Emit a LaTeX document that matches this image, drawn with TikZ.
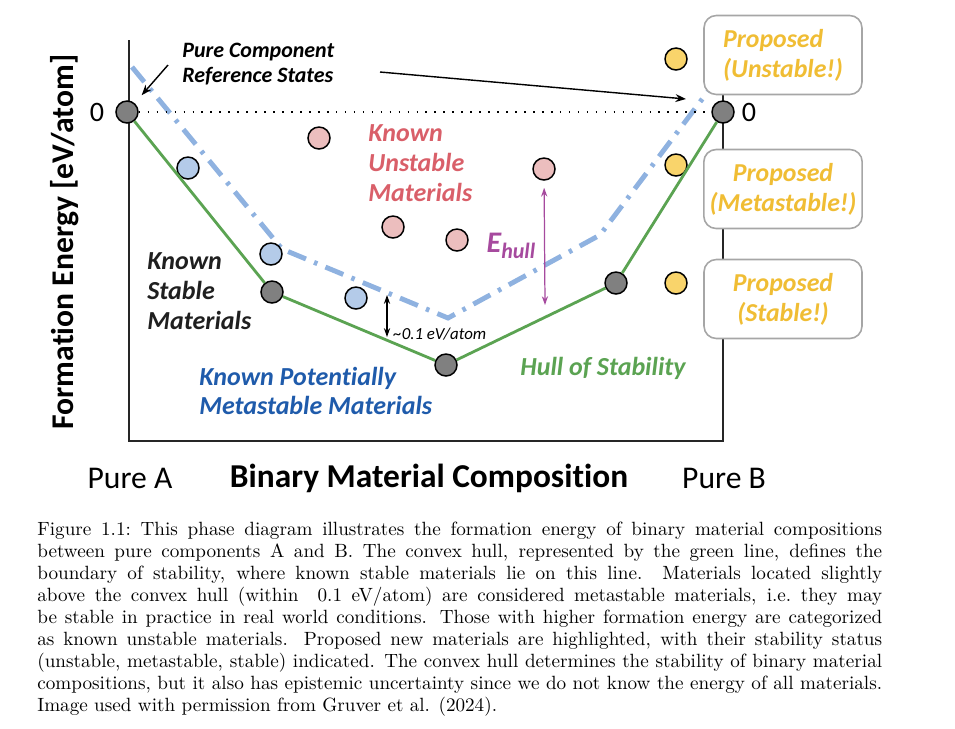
\documentclass[tikz,border=0pt]{standalone}
\usepackage{fontspec}
\newfontfamily\labelfont[Ligatures=NoCommon]{Carlito}
\usetikzlibrary{arrows.meta}
\definecolor{hullgreen}{RGB}{91,163,82}
\definecolor{metablue}{RGB}{143,178,224}
\definecolor{knownblue}{RGB}{31,91,171}
\definecolor{unred}{RGB}{217,95,105}
\definecolor{ehullpurple}{RGB}{166,74,158}
\definecolor{propyellow}{RGB}{240,189,52}
\definecolor{dotgray}{RGB}{128,128,128}
\definecolor{dotblue}{RGB}{180,203,233}
\definecolor{dotpink}{RGB}{236,190,190}
\definecolor{dotyellow}{RGB}{249,212,107}
\begin{document}
\begin{tikzpicture}[x=0.02cm,y=-0.02cm,
	dot/.style={circle,draw=black,line width=0.85pt,inner sep=0pt,minimum size=0.44cm},
	stable/.style={dot,fill=dotgray},
	meta/.style={dot,fill=dotblue},
	unstable/.style={dot,fill=dotpink},
	proposed/.style={dot,fill=dotyellow},
	hull/.style={hullgreen,line width=1.6pt},
	ptr/.style={-{Stealth[length=6pt,width=4.5pt]},line width=0.8pt},
	bigtxt/.style={font=\labelfont\fontsize{14.8}{17}\selectfont\bfseries\itshape,align=left,inner sep=0pt},
	propbox/.style={draw=black!35,line width=0.9pt,fill=white,rounded corners=7pt,minimum width=3.16cm,minimum height=1.58cm,font=\labelfont\fontsize{14.7}{17}\selectfont\bfseries\itshape,text=propyellow}]
	\useasboundingbox (0,0) rectangle (955,728);
	\draw[line width=1.1pt,black!85] (129,40) -- (129,441) -- (723,441) -- (723,40);
	\draw[metablue,line width=2.8pt,dash pattern=on 11pt off 5pt on 2pt off 5pt] (132,67) -- (282,249) -- (448,318) -- (600,235) -- (712,86);
	\node[stable] (ptA) at (127,112) {};
	\node[stable] (ptB) at (723,112) {};
	\node[stable] (st1) at (272,292) {};
	\node[stable] (st2) at (446,365) {};
	\node[stable] (st3) at (616,283) {};
	\node[meta] (mb1) at (188,168) {};
	\node[meta] (mb2) at (271,254) {};
	\node[meta] (mb3) at (356,298) {};
	\node[unstable] (un1) at (319,138) {};
	\node[unstable] (un2) at (393,227) {};
	\node[unstable] (un3) at (457,240) {};
	\node[unstable] (un4) at (544,169) {};
	\node[proposed] (pr1) at (676,59) {};
	\node[proposed] (pr2) at (676,165) {};
	\node[proposed] (pr3) at (676,283) {};
	\draw[line width=0.9pt,dash pattern=on 0.9pt off 4.2pt] (ptA) -- (ptB);
	\draw[hull] (ptA) -- (st1) -- (st2) -- (st3) -- (ptB);
	\node[propbox,align=left] (boxU) at (783,55) {Proposed\\(Unstable!)};
	\node[propbox,align=center] (boxM) at (783,189) {Proposed\\(Metastable!)};
	\node[propbox,align=center] (boxS) at (783,299) {Proposed\\(Stable!)};
	\node[bigtxt,font=\labelfont\fontsize{12.5}{14.2}\selectfont\bfseries\itshape,anchor=west] (pure) at (182,64) {Pure Component\\Reference States};
	\coordinate (refA) at (168,65);
	\coordinate (refB0) at (380,72);
	\coordinate (refB) at (686,99);
	\draw[ptr,shorten >=6pt] (refA) -- (ptA);
	\draw[ptr] (refB0) -- (refB);
	\node[bigtxt,text=unred,anchor=west] (unlab) at (368,163) {Known\\Unstable\\Materials};
	\node[bigtxt,text=black!88,anchor=west] (stlab) at (147,291) {Known\\Stable\\Materials};
	\node[bigtxt,text=knownblue,anchor=west] (mblab) at (199,391) {Known Potentially\\Metastable Materials};
	\node[bigtxt,text=hullgreen] (hulllab) at (603,368) {Hull of Stability};
	\node[bigtxt,text=ehullpurple] (ehull) at (511,246) {\fontsize{17}{17}\selectfont E\raisebox{-0.45ex}{\fontsize{12.5}{12.5}\selectfont hull}};
	\coordinate (ehullbot) at (545,305);
	\draw[ehullpurple,line width=0.7pt,{Stealth[length=5pt,width=3.5pt]}-{Stealth[length=5pt,width=3.5pt]},shorten <=4pt] (un4) -- (ehullbot);
	\coordinate (gapt) at (387,295);
	\coordinate (gapb) at (387,337);
	\draw[line width=0.8pt,{Stealth[length=5pt,width=3.5pt]}-{Stealth[length=5pt,width=3.5pt]}] (gapt) -- (gapb);
	\node[font=\labelfont\fontsize{9.6}{11}\selectfont\itshape,anchor=west,inner sep=0pt] (gaplab) at (393,334) {\textasciitilde0.1 eV/atom};
	\node[font=\labelfont\fontsize{16}{16}\selectfont] (zeroA) at (97,112) {0};
	\node[font=\labelfont\fontsize{16}{16}\selectfont] (zeroB) at (749,112) {0};
	\node[font=\labelfont\fontsize{18}{18}\selectfont\bfseries,rotate=90] (ylab) at (65,242) {Formation Energy [eV/atom]};
	\node[font=\labelfont\fontsize{18}{18}\selectfont] (pureA) at (130,478) {Pure A};
	\node[font=\labelfont\fontsize{19}{19}\selectfont\bfseries] (xlab) at (429,478) {Binary Material Composition};
	\node[font=\labelfont\fontsize{18}{18}\selectfont] (pureB) at (724,478) {Pure B};
	\node[anchor=north west,inner sep=0pt,text width=16.9cm,align=justify,font=\fontsize{10.9}{12.5}\selectfont] (caption) at (37,522) {Figure 1.1:\ This phase diagram illustrates the formation energy of binary material compositions\linebreak
	between pure components A and B. The convex hull, represented by the green line, defines the\linebreak
	boundary of stability, where known stable materials lie on this line.  Materials located slightly\linebreak
	above the convex hull (within \ 0.1 eV/atom) are considered metastable materials, i.e.\ they may\linebreak
	be stable in practice in real world conditions. Those with higher formation energy are categorized\linebreak
	as known unstable materials. Proposed new materials are highlighted, with their stability status\linebreak
	(unstable, metastable, stable) indicated. The convex hull determines the stability of binary material\linebreak
	compositions, but it also has epistemic uncertainty since we do not know the energy of all materials.\linebreak
	Image used with permission from Gruver et al. (2024).};
\end{tikzpicture}
\end{document}
